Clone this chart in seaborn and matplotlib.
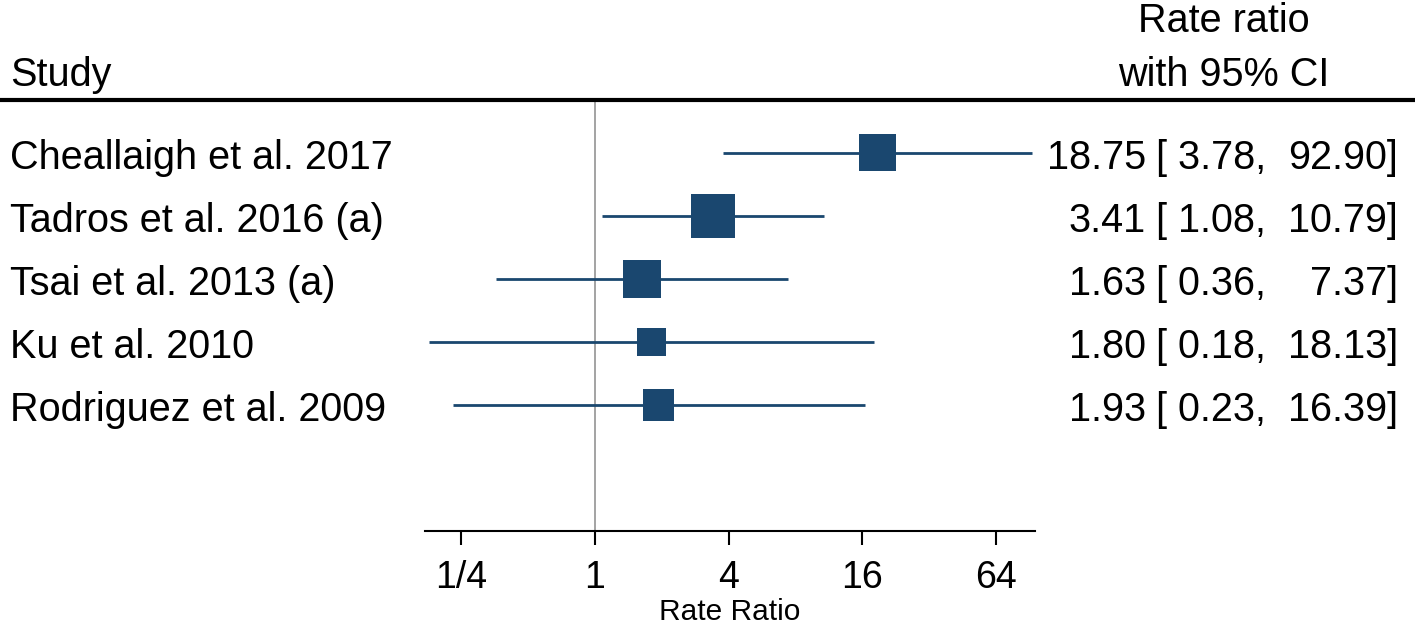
import matplotlib
matplotlib.use("Agg")
import matplotlib.pyplot as plt
import matplotlib.transforms as mtransforms
from matplotlib.lines import Line2D
import numpy as np
import pandas as pd
import seaborn as sns

studies = [
    "Cheallaigh et al. 2017",
    "Tadros et al. 2016 (a)",
    "Tsai et al. 2013 (a)",
    "Ku et al. 2010",
    "Rodriguez et al. 2009",
]
rate_ratio = [18.75, 3.41, 1.63, 1.80, 1.93]
ci_low = [3.78, 1.08, 0.36, 0.18, 0.23]
ci_high = [92.90, 10.79, 7.37, 18.13, 16.39]
weights = [20.9, 29.6, 22.0, 12.8, 14.7]  # % weight, drives square area

tick_values = [0.25, 1, 4, 16, 64]
tick_labels = ["1/4", "1", "4", "16", "64"]

W, H = 1415, 624
navy = "#1a476f"

sns.set_theme(style="white")
plt.rcParams["font.family"] = ["Liberation Sans", "DejaVu Sans"]
plt.rcParams["text.color"] = "black"
plt.rcParams["axes.labelcolor"] = "black"
plt.rcParams["xtick.color"] = "black"

df = pd.DataFrame({
    "study": studies,
    "rr": rate_ratio,
    "lo": ci_low,
    "hi": ci_high,
    "w": weights,
})
df["row"] = np.arange(len(df))

fig = plt.figure(figsize=(W / 100, H / 100), dpi=100)
# plot region: x 425..1035 px, y 100..531 px (from top)
ax = fig.add_axes([425 / W, (H - 531) / H, 610 / W, 431 / H])

ax.hlines(df["row"], df["lo"], df["hi"], color=navy, lw=2.0, zorder=2)
area_scale = 33.96
sns.scatterplot(
    data=df, x="rr", y="row", size="study",
    sizes=dict(zip(df["study"], df["w"] * area_scale)),
    marker="s", color=navy, linewidth=0, legend=False, ax=ax, zorder=3,
)
ax.axvline(1, color="#8a8a8a", lw=1.1, zorder=1)

ax.set_xscale("log", base=2)
ax.set_xlim(0.172, 95.8)
ax.set_ylim(6.0, -0.841)
ax.set_xticks(tick_values)
ax.set_xticklabels(tick_labels)
ax.minorticks_off()
ax.set_yticks([])
ax.set_ylabel("")
ax.set_xlabel("Rate Ratio", fontsize=21.5, labelpad=1)
for s in ["top", "left", "right"]:
    ax.spines[s].set_visible(False)
ax.spines["bottom"].set_color("black")
ax.spines["bottom"].set_linewidth(1.5)
ax.tick_params(axis="x", bottom=True, direction="out", length=10, width=1.5,
               color="black", labelsize=27, pad=11, labelcolor="black")

# left and right text columns, aligned with rows
tr = mtransforms.blended_transform_factory(fig.transFigure, ax.transData)
fs = 28.5
for _, r in df.iterrows():
    yb = r["row"] + 0.254
    ax.text(10 / W, yb, r["study"], transform=tr, ha="left", va="baseline", fontsize=fs)
    ax.text(1146 / W, yb, f"{r['rr']:.2f}", transform=tr, ha="right", va="baseline", fontsize=fs)
    ax.text(1266 / W, yb, f"[ {r['lo']:.2f},", transform=tr, ha="right", va="baseline", fontsize=fs)
    ax.text(1398 / W, yb, f"{r['hi']:.2f}]", transform=tr, ha="right", va="baseline", fontsize=fs)

# header
fig.text(10 / W, 1 - 86 / H, "Study", ha="left", va="baseline", fontsize=fs)
fig.text(1224 / W, 1 - 32 / H, "Rate ratio", ha="center", va="baseline", fontsize=fs)
fig.text(1224 / W, 1 - 86 / H, "with 95% CI", ha="center", va="baseline", fontsize=fs)
fig.add_artist(Line2D([0, 1], [1 - 100 / H, 1 - 100 / H], transform=fig.transFigure,
                      color="black", lw=3))

fig.savefig("out.png", dpi=100, facecolor="white")
